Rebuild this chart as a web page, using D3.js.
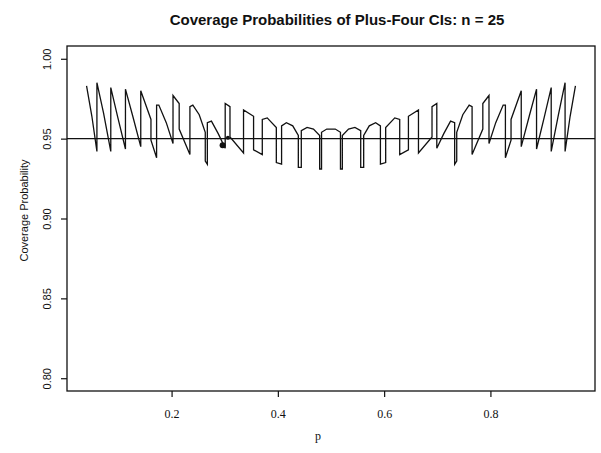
<!DOCTYPE html>
<html>
<head>
<meta charset="utf-8">
<script src="https://cdn.jsdelivr.net/npm/d3@7"></script>
<style>
  html, body { margin: 0; padding: 0; background: #fff; }
  svg { display: block; }
</style>
</head>
<body>
<div id="chart"></div>
<script>
// ---- data ----
const titleText = "Coverage Probabilities of Plus-Four CIs: n = 25";
const xLabel = "p";
const yLabel = "Coverage Probability";
const xTicks = [0.2, 0.4, 0.6, 0.8];
const xTickLabels = ["0.2", "0.4", "0.6", "0.8"];
const yTicks = [0.80, 0.85, 0.90, 0.95, 1.00];
const yTickLabels = ["0.80", "0.85", "0.90", "0.95", "1.00"];
const referenceLevel = 0.95;

// polyline vertices of the coverage curve (vertical jumps = repeated p)
const pValues = [
  0.040, 0.050, 0.0595, 0.0595, 0.072, 0.0856, 0.0856, 0.099, 0.1132, 0.1132,
  0.127, 0.1420, 0.1420, 0.1612, 0.1612, 0.1718, 0.1718, 0.176, 0.190, 0.2027,
  0.2027, 0.2143, 0.2143, 0.2345, 0.2345, 0.240, 0.252, 0.2634, 0.2634, 0.2673,
  0.2673, 0.275, 0.288, 0.3009, 0.3009, 0.3099, 0.3099, 0.3354, 0.3354, 0.3543,
  0.3543, 0.3707, 0.3707, 0.380, 0.3971, 0.3971, 0.4070, 0.4070, 0.416, 0.428,
  0.4385, 0.4385, 0.4441, 0.4441, 0.455, 0.467, 0.4787, 0.4787, 0.4822, 0.4822,
  0.492, 0.508, 0.5178, 0.5178, 0.5213, 0.5213, 0.533, 0.545, 0.5559, 0.5559,
  0.5615, 0.5615, 0.572, 0.584, 0.5930, 0.5930, 0.6029, 0.6029, 0.620, 0.6293,
  0.6293, 0.6457, 0.6457, 0.6646, 0.6646, 0.6901, 0.6901, 0.6991, 0.6991, 0.712,
  0.725, 0.7327, 0.7327, 0.7366, 0.7366, 0.748, 0.760, 0.7655, 0.7655, 0.7857,
  0.7857, 0.7973, 0.7973, 0.810, 0.824, 0.8282, 0.8282, 0.8388, 0.8388, 0.8580,
  0.8580, 0.873, 0.8868, 0.8868, 0.901, 0.9144, 0.9144, 0.928, 0.9405, 0.9405,
  0.950, 0.960
];
const coverage = [
  0.983, 0.964, 0.942, 0.985, 0.966, 0.942, 0.982, 0.963, 0.9435, 0.981,
  0.964, 0.945, 0.980, 0.962, 0.949, 0.938, 0.971, 0.971, 0.960, 0.947,
  0.977, 0.972, 0.956, 0.940, 0.970, 0.971, 0.965, 0.954, 0.936, 0.934,
  0.960, 0.961, 0.953, 0.944, 0.972, 0.970, 0.951, 0.941, 0.968, 0.964,
  0.943, 0.940, 0.962, 0.963, 0.957, 0.935, 0.934, 0.958, 0.960, 0.958,
  0.952, 0.932, 0.932, 0.955, 0.957, 0.956, 0.952, 0.931, 0.931, 0.954,
  0.956, 0.956, 0.954, 0.931, 0.931, 0.952, 0.956, 0.957, 0.955, 0.932,
  0.932, 0.952, 0.958, 0.960, 0.958, 0.934, 0.935, 0.957, 0.963, 0.962,
  0.940, 0.943, 0.964, 0.968, 0.941, 0.951, 0.970, 0.972, 0.944, 0.953,
  0.961, 0.960, 0.934, 0.936, 0.954, 0.965, 0.971, 0.970, 0.940, 0.956,
  0.972, 0.977, 0.947, 0.960, 0.971, 0.971, 0.938, 0.949, 0.962, 0.980,
  0.945, 0.964, 0.981, 0.9435, 0.963, 0.982, 0.942, 0.965, 0.985, 0.942,
  0.964, 0.983
];
// two filled points visible on the curve
const markerP = [0.296, 0.306];
const markerCov = [0.9458, 0.9505];
const markerSize = [3, 2];

// ---- layout ----
const W = 601, H = 453;
const margin = { left: 67, right: 6, top: 46, bottom: 62 };
const iw = W - margin.left - margin.right;
const ih = H - margin.top - margin.bottom;

const svg = d3.select("#chart").append("svg")
  .attr("width", W).attr("height", H);

const x = d3.scaleLinear().domain([0.0032, 0.9968]).range([0, iw]);
const y = d3.scaleLinear().domain([0.792, 1.008]).range([ih, 0]);

const g = svg.append("g").attr("transform", `translate(${margin.left},${margin.top})`);

// plot box
g.append("rect").attr("x", 0).attr("y", 0).attr("width", iw).attr("height", ih)
  .attr("fill", "none").attr("stroke", "#111").attr("stroke-width", 1.3);

// axes
const xAxis = d3.axisBottom(x).tickValues(xTicks)
  .tickFormat((d, i) => xTickLabels[i]).tickSize(6).tickPadding(12);
const gx = g.append("g").attr("transform", `translate(0,${ih})`).call(xAxis);
gx.select(".domain").remove();
gx.selectAll("line").attr("stroke", "#111").attr("stroke-width", 1.2);
gx.selectAll("text").attr("font-family", "'Liberation Serif', 'Times New Roman', serif")
  .attr("font-size", 12).attr("fill", "#111");

const yAxis = d3.axisLeft(y).tickValues(yTicks)
  .tickFormat((d, i) => yTickLabels[i]).tickSize(6);
const gy = g.append("g").call(yAxis);
gy.select(".domain").remove();
gy.selectAll("line").attr("stroke", "#111").attr("stroke-width", 1.2);
gy.selectAll("text")
  .attr("font-family", "'Liberation Sans', Arial, sans-serif")
  .attr("font-size", 11).attr("fill", "#111")
  .attr("text-anchor", "middle")
  .attr("x", 0).attr("dy", 0)
  .attr("transform", "translate(-20,0) rotate(-90)")
  .attr("y", 4);

// reference line
g.append("line")
  .attr("x1", 0).attr("x2", iw)
  .attr("y1", y(referenceLevel)).attr("y2", y(referenceLevel))
  .attr("stroke", "#111").attr("stroke-width", 1.3);

// coverage curve
const pts = pValues.map((p, i) => [p, coverage[i]]);
const line = d3.line().x(d => x(d[0])).y(d => y(d[1]));
g.append("path").datum(pts)
  .attr("d", line)
  .attr("fill", "none").attr("stroke", "#111")
  .attr("stroke-width", 1.3).attr("stroke-linejoin", "miter");

// markers
g.selectAll("circle.mk").data(markerP).enter().append("circle")
  .attr("class", "mk")
  .attr("cx", (d) => x(d))
  .attr("cy", (d, i) => y(markerCov[i]))
  .attr("r", (d, i) => markerSize[i])
  .attr("fill", "#111");

// title
svg.append("text")
  .attr("x", 337).attr("y", 25)
  .attr("text-anchor", "middle")
  .attr("font-family", "'Liberation Sans', Arial, sans-serif")
  .attr("font-weight", "bold").attr("font-size", 15)
  .attr("fill", "#111")
  .text(titleText);

// x label
svg.append("text")
  .attr("x", margin.left + iw / 2 - 13).attr("y", 440)
  .attr("text-anchor", "middle")
  .attr("font-family", "'Liberation Serif', 'Times New Roman', serif")
  .attr("font-size", 12).attr("fill", "#111")
  .text(xLabel);

// y label
svg.append("text")
  .attr("transform", `translate(28,${margin.top + ih / 2 - 8}) rotate(-90)`)
  .attr("text-anchor", "middle")
  .attr("font-family", "'Liberation Sans', Arial, sans-serif")
  .attr("font-size", 11).attr("fill", "#111")
  .text(yLabel);
</script>
</body>
</html>
